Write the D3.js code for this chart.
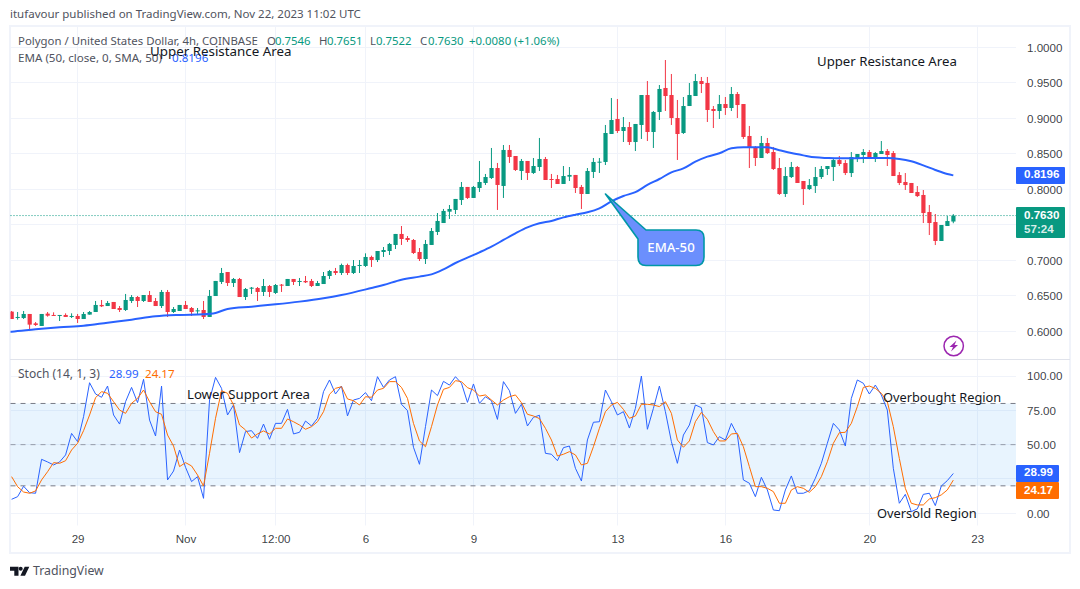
<!DOCTYPE html>
<html><head><meta charset="utf-8">
<script src="https://cdn.jsdelivr.net/npm/d3@7"></script>
<style>
html,body{margin:0;padding:0;background:#fff}
svg{display:block}
text{font-family:"Noto Sans",sans-serif}
</style></head><body><svg id="c" width="1080" height="589"></svg>
<script>
const open=[.6277,.6192,.6187,.6244,.6112,.6075,.6249,.6230,.6220,.6230,.6202,.6216,.6173,.6235,.6272,.6371,.6356,.6413,.6328,.6300,.6427,.6483,.6427,.6511,.6427,.6356,.6554,.6272,.6286,.6371,.6328,.6286,.6300,.6202,.6497,.6695,.6835,.6680,.6737,.6483,.6600,.6610,.6554,.6638,.6540,.6657,.6638,.6737,.6695,.6709,.6709,.6638,.6666,.6779,.6849,.6821,.6934,.6821,.6925,.6920,.7047,.7004,.7117,.7131,.7216,.7371,.7314,.7286,.7117,.7018,.7216,.7399,.7525,.7685,.7709,.7849,.8033,.7878,.8018,.8089,.8159,.8300,.8047,.8554,.8469,.8258,.8399,.8230,.8314,.8427,.8145,.8145,.8075,.8178,.8202,.8033,.7934,.8244,.8375,.8385,.8779,.8990,.8821,.8877,.8666,.8906,.9328,.8807,.9089,.9427,.9328,.9004,.8793,.9173,.9314,.9525,.9497,.9131,.9103,.9201,.9145,.9342,.9201,.8751,.8596,.8441,.8652,.8525,.8300,.7934,.8173,.8314,.8117,.8004,.8046,.8173,.8286,.8314,.8412,.8370,.8229,.8441,.8483,.8525,.8455,.8497,.8539,.8511,.8201,.8103,.8089,.7962,.7920,.7680,.7539,.7272,.7483,.7546];
const high=[.6286,.6272,.6286,.6244,.6131,.6244,.6272,.6267,.6230,.6253,.6253,.6244,.6272,.6286,.6427,.6441,.6427,.6413,.6356,.6526,.6511,.6497,.6511,.6568,.6469,.6582,.6582,.6342,.6371,.6427,.6342,.6328,.6427,.6582,.6709,.6892,.6835,.6751,.6751,.6610,.6624,.6624,.6737,.6652,.6666,.6666,.6737,.6737,.6751,.6779,.6737,.6709,.6835,.6864,.6892,.6953,.6953,.7004,.7004,.7098,.7065,.7131,.7187,.7244,.7371,.7483,.7342,.7300,.7173,.7286,.7455,.7666,.7723,.7779,.7864,.8103,.8033,.8047,.8399,.8216,.8582,.8371,.8624,.8624,.8469,.8427,.8399,.8441,.8723,.8455,.8216,.8202,.8328,.8314,.8202,.8061,.8300,.8441,.8441,.8906,.9286,.9272,.9018,.8948,.8920,.9328,.9525,.9103,.9469,.9821,.9624,.9258,.9300,.9497,.9624,.9582,.9582,.9173,.9328,.9300,.9441,.9370,.9201,.8892,.8610,.8751,.8723,.8596,.8441,.8314,.8385,.8328,.8117,.8145,.8314,.8328,.8328,.8427,.8469,.8412,.8525,.8497,.8567,.8553,.8525,.8680,.8567,.8539,.8243,.8229,.8089,.8046,.7990,.7779,.7652,.7497,.7624,.7651];
const low=[.6173,.6164,.6173,.6023,.6075,.6075,.6206,.6216,.6145,.6202,.6187,.6117,.6173,.6235,.6272,.6342,.6356,.6314,.6272,.6286,.6399,.6342,.6413,.6413,.6356,.6328,.6202,.6258,.6286,.6314,.6216,.6244,.6173,.6202,.6497,.6666,.6638,.6624,.6483,.6441,.6526,.6427,.6497,.6483,.6526,.6554,.6638,.6652,.6638,.6680,.6624,.6638,.6666,.6737,.6793,.6793,.6793,.6807,.6821,.6906,.6906,.6976,.7047,.7075,.7159,.7216,.7258,.7089,.6990,.6948,.7216,.7356,.7525,.7582,.7652,.7779,.7864,.7878,.7962,.8061,.8145,.7709,.7878,.8371,.8258,.8131,.8131,.8216,.8258,.8131,.8018,.8075,.8075,.8117,.7948,.7723,.7934,.8159,.8230,.8342,.8779,.8793,.8666,.8624,.8539,.8709,.8680,.8582,.8976,.9103,.8906,.8413,.8779,.9173,.9314,.9356,.8948,.8863,.8990,.9047,.9103,.9004,.8709,.8300,.8328,.8441,.8497,.8272,.7920,.7892,.8159,.8089,.7779,.7990,.7948,.8145,.8201,.8117,.8328,.8201,.8173,.8384,.8370,.8441,.8384,.8497,.8328,.8187,.8060,.7990,.7948,.7891,.7525,.7356,.7215,.7272,.7483,.7522];
const close=[.6173,.6202,.6244,.6094,.6089,.6244,.6220,.6220,.6230,.6202,.6216,.6173,.6244,.6272,.6371,.6352,.6399,.6314,.6300,.6441,.6483,.6427,.6511,.6413,.6356,.6554,.6272,.6314,.6371,.6314,.6272,.6295,.6202,.6497,.6709,.6821,.6680,.6737,.6483,.6596,.6615,.6554,.6638,.6554,.6652,.6643,.6737,.6695,.6709,.6690,.6638,.6680,.6779,.6849,.6821,.6934,.6821,.6920,.6934,.7047,.7004,.7131,.7145,.7230,.7371,.7300,.7286,.7103,.7018,.7230,.7413,.7554,.7695,.7723,.7864,.8033,.7878,.8033,.8103,.8173,.8300,.8061,.8554,.8455,.8272,.8399,.8230,.8328,.8427,.8131,.8131,.8075,.8187,.8202,.8018,.7934,.8258,.8385,.8389,.8793,.8976,.8821,.8877,.8666,.8920,.9328,.8807,.9089,.9413,.9314,.9004,.8779,.9173,.9328,.9525,.9483,.9117,.9103,.9201,.9145,.9342,.9187,.8737,.8582,.8441,.8652,.8511,.8286,.7934,.8187,.8314,.8089,.8004,.8060,.8173,.8286,.8328,.8412,.8356,.8229,.8455,.8497,.8525,.8455,.8511,.8539,.8483,.8187,.8089,.8060,.7948,.7905,.7666,.7525,.7272,.7497,.7553,.7630];

const emaIndex=[-1,0,4,8,12,16,20,24,28,32,34,36,40,44,48,52,55,60,62,65,68,70,72,74,76,78,80,82,84,86,88,90,92,94,96,98,100,102,104,106,108,110,112,114,116,118,120,122,124,126,128,130,132,134,136,138,140,142,144,146,148,150,152,154,156,157];
const emaValues=[.5990,.5995,.6028,.6056,.6079,.6122,.6164,.6211,.6230,.6239,.6258,.6314,.6347,.6380,.6418,.6465,.6511,.6610,.6652,.6727,.6770,.6802,.6873,.6962,.7037,.7112,.7192,.7286,.7380,.7464,.7521,.7554,.7605,.7643,.7676,.7732,.7830,.7906,.7960,.8061,.8145,.8239,.8295,.8389,.8460,.8507,.8577,.8591,.8591,.8591,.8550,.8510,.8478,.8450,.8441,.8436,.8436,.8441,.8441,.8441,.8427,.8394,.8337,.8272,.8215,.8196];

const stochK=[10.2,12.1,19.7,15.0,14.6,39.3,37.4,35.2,37.4,42.5,58.2,52.2,70.4,95.1,86.9,84.5,92.7,71.6,65.0,81.3,91.7,80.6,97.6,67.9,56.3,92.7,24.3,30.8,46.1,33.5,23.1,26.7,10.9,82.5,99.0,91.0,71.6,78.9,44.2,59.5,60.2,54.6,65.0,53.9,65.5,65.5,75.7,57.8,59.0,67.2,63.6,69.2,88.6,97.1,86.9,92.7,70.9,82.5,83.7,87.9,82.0,99.5,91.7,97.1,99.5,79.4,74.8,48.1,35.7,63.1,89.8,85.7,96.1,93.4,99.5,94.7,80.8,94.2,80.1,84.9,82.0,68.4,95.9,89.3,72.8,79.4,63.6,69.9,71.4,43.7,43.0,38.3,47.8,49.0,32.8,23.5,53.4,66.3,66.7,89.8,81.3,71.6,74.0,62.1,76.4,100,61.2,76.4,92.7,74.0,52.2,36.4,57.0,64.3,78.9,76.9,51.5,49.8,55.8,53.4,65.5,57.0,24.3,21.9,12.1,26.2,17.0,2.4,1.9,17.0,27.2,14.6,14.6,16.5,25.5,36.4,51.0,65.5,60.7,49.0,83.7,97.1,94.7,86.9,93.4,86.2,75.2,32.8,7.3,13.8,1.2,3.2,13.8,14.6,5.6,19.9,23.8,28.99];
const stochD=[26.7,19.4,15.5,14.6,16.3,24.3,30.3,36.9,36.4,38.3,46.1,51.0,60.2,71.6,84.2,88.6,87.4,81.3,75.2,72.8,80.1,83.7,89.8,81.3,74.0,72.1,57.0,49.0,34.0,36.9,34.5,27.9,19.9,43.7,69.2,89.3,87.4,78.9,64.3,60.7,54.8,57.8,60.0,57.8,61.9,61.9,68.7,66.7,64.3,61.2,63.1,66.7,74.0,86.7,91.0,92.2,83.3,82.0,78.9,84.9,84.5,89.8,91.0,95.9,95.9,91.7,83.7,65.5,52.7,48.5,63.1,78.9,90.3,91.7,96.6,95.9,91.5,89.8,85.4,86.2,82.5,78.9,82.5,84.9,86.2,80.6,72.1,70.9,69.0,61.9,53.4,41.7,43.0,44.9,42.5,35.2,36.4,48.5,61.9,74.0,78.9,80.8,75.7,69.2,70.9,79.4,79.4,78.9,77.7,81.3,72.8,53.4,48.1,52.7,66.7,73.5,68.4,59.5,52.7,52.7,57.8,58.2,48.5,34.0,19.4,19.4,18.2,15.8,7.3,7.3,17.0,19.4,18.2,15.3,19.4,26.7,37.6,51.0,58.7,59.0,65.5,77.7,91.7,92.7,91.0,87.4,81.3,63.1,40.0,18.2,7.3,6.1,6.1,10.4,11.4,13.4,17.0,24.17];

const priceTicks=[.6,.65,.7,.75,.8,.85,.9,.95,1];
const priceLabelTicks=[.6,.65,.7,.8,.85,.9,.95,1];
const stochTicks=[0,25,50,75,100];
const stochLabelTicks=[0,50,75,100];
const stochLevels=[20,50,80];
const timeTicks=[["2023-10-29","29"],["2023-11-01","Nov"],["2023-11-03T12:00Z","12:00"],["2023-11-06","6"],["2023-11-09","9"],["2023-11-13","13"],["2023-11-16","16"],["2023-11-20","20"],["2023-11-23","23"]];
const lastClose=.7630, lastEma=.8196, lastK=28.99, lastD=24.17;

const UP="#089981",DOWN="#f23645",BLUE="#2962ff",ORANGE="#ff6d00",GRID="#f0f3fa",TXT="#131722",GREY="#50535e";
const AXF='"Liberation Sans",sans-serif';
const L=10.5,R=1016,T=27,SEP=359.5,SB=525.5,FR=1070;
const svg=d3.select("#c");
const start=new Date(Date.UTC(2023,9,27,4));
const tAt=i=>new Date(+start+i*4*3600e3);
const x=d3.scaleUtc().domain([tAt(0),tAt(161)]).range([11.6,977.3]);
const y=d3.scaleLinear().domain([.6,1]).range([331.3,47.3]);
const ys=d3.scaleLinear().domain([0,100]).range([513.3,376]);
const tickDates=timeTicks.map(d=>new Date(d[0].length==10?d[0]+"T00:00Z":d[0]));

const defs=svg.append("defs");
defs.append("clipPath").attr("id","p1").append("rect").attr("x",L).attr("y",T).attr("width",R-L).attr("height",SEP-T);
defs.append("clipPath").attr("id","p2").append("rect").attr("x",L).attr("y",SEP).attr("width",R-L).attr("height",SB-SEP);

// frame
svg.append("rect").attr("x",10).attr("y",26).attr("width",FR-10).attr("height",527).attr("fill","none").attr("stroke",GRID).attr("stroke-width",2);
// grid
const grid=svg.append("g").attr("stroke",GRID).attr("stroke-width",1);
grid.selectAll(".v1").data(tickDates).join("line").attr("x1",d=>Math.floor(x(d))+.5).attr("x2",d=>Math.floor(x(d))+.5).attr("y1",T).attr("y2",SEP);
grid.selectAll(".v2").data(tickDates).join("line").attr("x1",d=>Math.floor(x(d))+.5).attr("x2",d=>Math.floor(x(d))+.5).attr("y1",SEP).attr("y2",SB);
grid.selectAll(".h1").data(priceTicks).join("line").attr("x1",L).attr("x2",R).attr("y1",d=>Math.floor(y(d))+.5).attr("y2",d=>Math.floor(y(d))+.5);
grid.selectAll(".h2").data(stochTicks).join("line").attr("x1",L).attr("x2",R).attr("y1",d=>Math.floor(ys(d))+.5).attr("y2",d=>Math.floor(ys(d))+.5);
svg.append("line").attr("x1",10).attr("x2",FR).attr("y1",SEP).attr("y2",SEP).attr("stroke","#e0e3eb");

// stoch band
svg.append("rect").attr("x",L).attr("width",R-L).attr("y",ys(80)).attr("height",ys(20)-ys(80)).attr("fill","#2196f3").attr("fill-opacity",.1);
svg.selectAll(".lvl").data(stochLevels).join("line").attr("x1",L).attr("x2",R).attr("y1",d=>ys(d)).attr("y2",d=>ys(d))
  .attr("stroke","#787b86").attr("stroke-dasharray","5 5").attr("stroke-opacity",d=>d==50?.7:1);

// last price dotted
svg.append("line").attr("x1",L).attr("x2",R).attr("y1",y(lastClose)).attr("y2",y(lastClose)).attr("stroke",UP).attr("stroke-dasharray","1 2");

// candles
const cg=svg.append("g").attr("clip-path","url(#p1)");
const idx=d3.range(open.length);
const col=i=>close[i]>=open[i]?UP:DOWN;
cg.selectAll(".w").data(idx).join("line").attr("x1",i=>x(tAt(i))).attr("x2",i=>x(tAt(i))).attr("y1",i=>y(high[i])).attr("y2",i=>y(low[i])).attr("stroke",col).attr("stroke-width",1);
cg.selectAll(".b").data(idx).join("rect").attr("x",i=>x(tAt(i))-2).attr("width",4.2).attr("y",i=>y(Math.max(open[i],close[i]))).attr("height",i=>Math.max(1,Math.abs(y(open[i])-y(close[i])))).attr("fill",col);

// EMA
const emaLine=d3.line().x((d,i)=>x(tAt(emaIndex[i]))).y(d=>y(d)).curve(d3.curveMonotoneX);
cg.append("path").attr("d",emaLine(emaValues)).attr("fill","none").attr("stroke",BLUE).attr("stroke-width",2);

// stoch
const sg=svg.append("g").attr("clip-path","url(#p2)");
const sLine=d3.line().x((d,i)=>x(tAt(i))).y(d=>ys(d));
sg.append("path").attr("d",sLine(stochK)).attr("fill","none").attr("stroke",BLUE).attr("stroke-width",1);
sg.append("path").attr("d",sLine(stochD)).attr("fill","none").attr("stroke",ORANGE).attr("stroke-width",1);

// axes
const axP=svg.append("g").attr("transform",`translate(${R+4},0)`).call(d3.axisRight(y).tickValues(priceLabelTicks).tickSize(0).tickFormat(d3.format(".4f")));
const axS=svg.append("g").attr("transform",`translate(${R+4},0)`).call(d3.axisRight(ys).tickValues(stochLabelTicks).tickSize(0).tickFormat(d3.format(".2f")));
const axT=svg.append("g").attr("transform",`translate(0,527)`).call(d3.axisBottom(x).tickValues(tickDates).tickSize(0).tickFormat((d,i)=>timeTicks[i][1]));
[axP,axS,axT].forEach(a=>{a.select(".domain").remove();a.selectAll("text").attr("fill",TXT).attr("fill-opacity",.85).style("font-size","11.6px").style("font-family",AXF);});
axP.selectAll("text").attr("dx",4);axS.selectAll("text").attr("dx",4);
axT.selectAll("text").attr("dy","1.1em");

// value labels
function tag(yTop,h,fill,w){svg.append("rect").attr("x",R).attr("y",yTop).attr("width",w).attr("height",h).attr("rx",1).attr("fill",fill);}
function lab(xx,yy,t,fill,size,weight,anchor,op,fam){const s=svg.append("text").attr("x",xx).attr("y",yy).text(t).attr("fill",fill).style("font-size",size+"px").attr("font-weight",weight||400).attr("text-anchor",anchor||"start").attr("fill-opacity",op||1).attr("dominant-baseline","middle");if(fam)s.style("font-family",fam);return s;}
tag(y(lastEma)-8.5,17,BLUE,49);
lab(R+8,y(lastEma),d3.format(".4f")(lastEma),"#fff",11.6,700,null,1,AXF);
tag(207,31,UP,49);
lab(R+8,215.5,d3.format(".4f")(lastClose),"#fff",11.6,700,null,1,AXF);
lab(R+8,230,"57:24","#fff",11.6,700,null,.85,AXF);
tag(465,17,BLUE,43);
lab(R+8,ys(lastK)-.5,d3.format(".2f")(lastK),"#fff",11.6,700,null,1,AXF);
tag(482,17,ORANGE,43);
lab(R+8,490.5,d3.format(".2f")(lastD),"#fff",11.6,700,null,1,AXF);

// headers
lab(10,15,"itufavour published on TradingView.com, Nov 22, 2023 11:02 UTC",GREY,11.5);
lab(18,42,"Polygon / United States Dollar, 4h, COINBASE",GREY,11.4);
[["O",267,"0.7546"],["H",319,"0.7651"],["L",370,"0.7522"],["C",420,"0.7630"]].forEach(d=>{
  lab(d[1],42,d[0],GREY,11.4);lab(d[1]+(d[0]=="L"?6:8),42,d[2],UP,11.4);
});
lab(469,42,"+0.0080 (+1.06%)",UP,11.4);
lab(18,58.5,"EMA (50, close, 0, SMA, 50)",GREY,11.6);
lab(172,58.5,"0.8196",BLUE,11.6);
lab(18,374.5,"Stoch (14, 1, 3)",GREY,12);
lab(109,374.5,"28.99",BLUE,11.6);
lab(145,374.5,"24.17",ORANGE,11.6);

// annotations
lab(150,52,"Upper Resistance Area",TXT,13.35);
lab(817,62.5,"Upper Resistance Area",TXT,13.2);
lab(187,395,"Lower Support Area",TXT,13.2);
lab(883,398.5,"Overbought Region",TXT,12.8);
lab(877,515,"Oversold Region",TXT,12.85);

// callout
svg.append("path").attr("d","M605.5 194 L646 230 H696 Q704 230 704 238 V257 Q704 265.5 696 265.5 H646 Q638 265.5 638 257 V239 Z")
  .attr("fill","#6b8ffd").attr("stroke","#0097a7").attr("stroke-width",1.6).attr("stroke-linejoin","round");
lab(671,248.5,"EMA-50","#fff",13.2,500,"middle");

// bolt
svg.append("circle").attr("cx",953.7).attr("cy",346).attr("r",9.7).attr("fill","#fff").attr("stroke","#9c27b0").attr("stroke-width",1.5);
svg.append("path").attr("d","M956.5 340.5 L949.5 347 H953 L951 351.5 L958 345 H954.5 Z").attr("fill","#9c27b0");

// logo
svg.append("path").attr("d","M10 566.7h8.5v9h-4.2v-5H10z M29.3 566.7l-4.3 9h-4.6l4.3-9z").attr("fill",TXT);
svg.append("circle").attr("cx",20.7).attr("cy",568.8).attr("r",2).attr("fill",TXT);
lab(33,571.5,"TradingView",GREY,12.3);
</script></body></html>
